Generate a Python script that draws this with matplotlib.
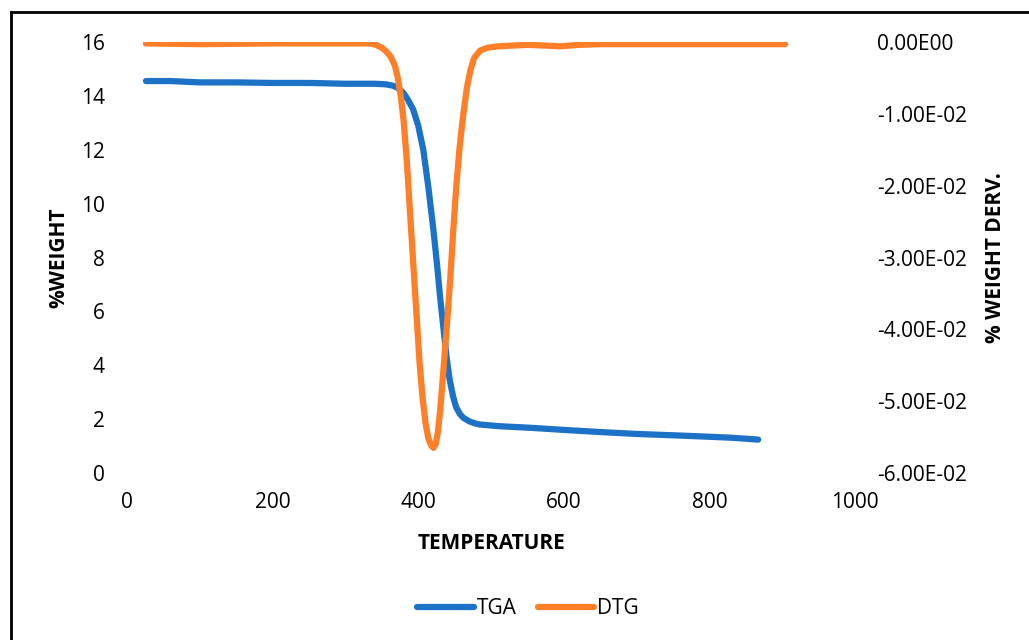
import matplotlib.pyplot as plt
from matplotlib.lines import Line2D

plt.rcParams['font.family'] = ['Open Sans', 'DejaVu Sans']

# TGA curve (% weight vs temperature)
tga_temp = [26, 60, 100, 150, 200, 250, 300, 340, 355, 365, 372, 380, 386,
            393, 400, 407, 414, 421, 426, 430, 435, 439, 443, 448, 452, 457,
            462, 470, 478, 485, 510, 553, 600, 650, 700, 750, 787, 830, 867]
tga_weight = [14.55, 14.55, 14.5, 14.5, 14.48, 14.48, 14.45, 14.45, 14.43, 14.38,
              14.3, 14.1, 13.85, 13.5, 12.9, 12.0, 10.6, 9.0, 7.7, 6.55,
              5.3, 4.3, 3.5, 2.83, 2.45, 2.2, 2.05, 1.92, 1.84, 1.8,
              1.74, 1.68, 1.6, 1.52, 1.45, 1.4, 1.36, 1.31, 1.24]

# DTG curve (% weight derivative vs temperature)
dtg_temp = [26, 100, 200, 300, 334, 342, 350, 356, 362, 368, 372, 376, 380,
            384, 388, 393, 398, 402, 406, 410, 414, 418, 421, 424, 427, 430,
            434, 439, 444, 448, 452, 457, 462, 467, 472, 477, 485, 495, 510,
            550, 575, 595, 620, 650, 750, 850, 904]
dtg_deriv = [-0.0002, -0.0003, -0.0002, -0.0002, -0.0002, -0.0004, -0.0008,
             -0.0013, -0.0020, -0.0033, -0.0050, -0.0075, -0.0110, -0.0160,
             -0.0225, -0.0305, -0.0385, -0.0448, -0.0495, -0.0530, -0.0552,
             -0.0562, -0.0565, -0.0560, -0.0543, -0.0515, -0.0465, -0.0400,
             -0.0330, -0.0265, -0.0205, -0.0145, -0.0100, -0.0063, -0.0038,
             -0.0022, -0.0012, -0.0008, -0.0006, -0.0004, -0.0005, -0.0006,
             -0.0004, -0.0003, -0.0003, -0.0003, -0.0003]

blue = '#1c72c6'
orange = '#fe7f27'

fig = plt.figure(figsize=(10.29, 6.4), dpi=100)
ax = fig.add_axes([127 / 1029, 1 - 473 / 640, 728 / 1029, 431 / 640])
ax2 = ax.twinx()

l1, = ax.plot(tga_temp, tga_weight, color=blue, lw=4.5, solid_capstyle='round',
              solid_joinstyle='round', label='TGA')
l2, = ax2.plot(dtg_temp, dtg_deriv, color=orange, lw=4.5, solid_capstyle='round',
               solid_joinstyle='round', label='DTG')

ax.set_xlim(0, 1000)
ax.set_ylim(0, 16)
ax2.set_ylim(-0.06, 0)
ax.set_xticks(range(0, 1001, 200))
ax.set_yticks(range(0, 17, 2))
ax2.set_yticks([-0.06, -0.05, -0.04, -0.03, -0.02, -0.01, 0])
ax2.set_yticklabels(['-6.00E-02', '-5.00E-02', '-4.00E-02', '-3.00E-02',
                     '-2.00E-02', '-1.00E-02', '0.00E00'])

for a in (ax, ax2):
    for s in a.spines.values():
        s.set_visible(False)
    a.tick_params(length=0, labelsize=15, colors='black')
ax.tick_params(axis='y', pad=16)
ax.tick_params(axis='x', pad=14)
ax2.tick_params(axis='y', pad=16)

ax.set_xlabel('TEMPERATURE', fontsize=15, fontweight='bold', labelpad=14)
ax.set_ylabel('%WEIGHT', fontsize=15, fontweight='bold', labelpad=8)
ax2.set_ylabel('% WEIGHT DERV.', fontsize=15, fontweight='bold', labelpad=13)

fig.legend(handles=[l1, l2], loc='center', bbox_to_anchor=(528 / 1029, 1 - 609 / 640),
           ncol=2, frameon=False, fontsize=15, handlelength=2.7,
           handletextpad=0.15, columnspacing=1.0)

# partial border around the chart area (left and top edges)
fig.add_artist(Line2D([11 / 1029, 11 / 1029], [0, 1 - 12 / 640], color='black',
                      lw=2, transform=fig.transFigure))
fig.add_artist(Line2D([11 / 1029, 1], [1 - 12 / 640, 1 - 12 / 640], color='black',
                      lw=2, transform=fig.transFigure))

fig.savefig('out.png', dpi=100)
